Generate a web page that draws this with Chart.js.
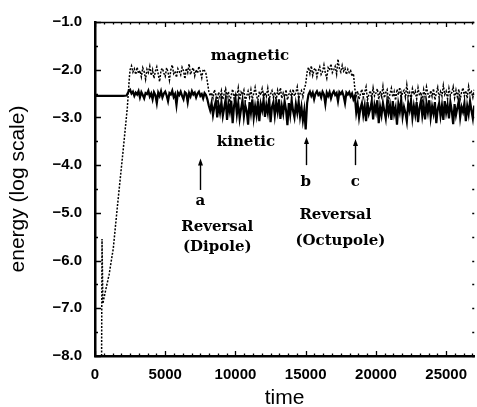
<!DOCTYPE html>
<html>
<head>
<meta charset="utf-8">
<script src="https://cdn.jsdelivr.net/npm/chart.js@4.4.0/dist/chart.umd.min.js"></script>
<style>
  html, body { margin: 0; padding: 0; background: #fff; }
  canvas { display: block; }
</style>
</head>
<body>
<canvas id="energyChart" width="477" height="407"></canvas>
<script>
// start-up phase
var kineticStartTime = [0, 1000, 2000, 2250, 2400];
var kineticStartEnergy = [-2.55, -2.55, -2.55, -2.54, -2.45];
var magneticStartTime = [470, 500, 560, 700, 1000, 1300, 1600, 2000, 2300, 2450];
var magneticStartEnergy = [-8.0, -5.55, -6.9, -6.7, -6.3, -5.75, -4.85, -3.7, -2.8, -2.15];

// saturated phase, one value every 100 time units from 2500 to 27000
var sampleStart = 2500, sampleStep = 100;
var kineticEnergy = [
  -2.42, -2.50, -2.46, -2.55, -2.48,
  -2.52, -2.45, -2.58, -2.47, -2.53, -2.60, -2.49, -2.51, -2.44, -2.56,
  -2.50, -2.62, -2.47, -2.53, -2.70, -2.48, -2.55, -2.45, -2.58, -2.50,
  -2.46, -2.54, -2.66, -2.49, -2.52, -2.44, -2.57, -2.51, -2.74, -2.48,
  -2.53, -2.46, -2.55, -2.62, -2.47, -2.50, -2.68, -2.49, -2.56, -2.45,
  -2.52, -2.48, -2.58, -2.50, -2.46, -2.55, -2.51, -2.60, -2.49, -2.53,
  -2.62, -2.75, -2.85, -2.70, -2.95, -2.78, -2.66, -3.00, -2.74, -2.90,
  -2.68, -2.97, -2.80, -2.62, -3.05, -2.72, -2.88, -2.65, -3.12, -2.76,
  -2.60, -2.93, -2.70, -3.02, -2.82, -2.64, -2.98, -2.75, -2.86, -3.15,
  -2.68, -2.90, -2.62, -3.00, -2.77, -2.95, -2.66, -3.08, -2.72, -2.85,
  -2.63, -2.99, -2.74, -2.90, -2.60, -3.10, -2.78, -2.68, -2.96, -2.70,
  -2.88, -2.62, -3.03, -2.76, -2.92, -2.66, -2.84, -3.16, -2.70, -2.94,
  -2.64, -2.86, -3.00, -2.72, -2.90, -2.67, -2.98, -2.78, -3.06, -2.85,
  -3.25, -2.70, -2.52, -2.46, -2.55, -2.48, -2.62, -2.50, -2.45, -2.53,
  -2.49, -2.58, -2.46, -2.52, -2.72, -2.48, -2.55, -2.47, -2.60, -2.50,
  -2.45, -2.53, -2.49, -2.66, -2.47, -2.51, -2.46, -2.55, -2.70, -2.48,
  -2.52, -2.47, -2.56, -2.50, -2.62, -2.55, -2.90, -2.72, -3.00, -2.80,
  -2.70, -2.95, -2.76, -3.08, -2.68, -2.92, -2.82, -2.66, -3.04, -2.74,
  -2.88, -2.64, -3.12, -2.78, -2.95, -2.70, -2.86, -3.02, -2.68, -2.90,
  -2.75, -3.05, -2.66, -2.93, -2.80, -3.15, -2.72, -2.88, -2.63, -2.98,
  -2.78, -2.90, -3.08, -2.70, -2.85, -2.65, -3.00, -2.76, -2.94, -2.68,
  -3.10, -2.80, -2.66, -2.96, -2.74, -3.04, -2.70, -2.89, -2.64, -3.00,
  -2.77, -2.92, -2.68, -3.12, -2.82, -2.70, -2.97, -2.75, -3.05, -2.66,
  -2.90, -2.74, -3.02, -2.68, -2.86, -3.14, -2.72, -2.95, -2.80, -2.65,
  -3.00, -2.78, -2.88, -2.70, -3.08, -2.76, -2.93, -2.66, -2.85, -3.02,
  -2.75
];
var magneticEnergy = [
  -2.00, -1.92, -2.05, -1.98, -2.10,
  -1.95, -2.08, -2.02, -2.15, -1.96, -2.04, -2.20, -1.99, -2.06, -1.93,
  -2.12, -2.00, -2.18, -2.03, -1.94, -2.09, -2.25, -2.01, -1.97, -2.07,
  -2.14, -1.96, -2.05, -2.22, -2.00, -1.90, -2.08, -2.03, -2.16, -1.98,
  -2.04, -2.11, -1.95, -2.02, -2.19, -1.97, -2.06, -1.88, -2.10, -2.01,
  -1.96, -2.13, -2.00, -2.07, -1.93, -2.05, -2.17, -1.99, -2.02, -2.08,
  -2.25, -2.45, -2.55, -2.48, -2.60, -2.42, -2.52, -2.66, -2.47, -2.58,
  -2.44, -2.62, -2.50, -2.40, -2.57, -2.46, -2.68, -2.53, -2.41, -2.60,
  -2.49, -2.56, -2.38, -2.63, -2.47, -2.52, -2.43, -2.66, -2.55, -2.45,
  -2.58, -2.42, -2.61, -2.50, -2.37, -2.55, -2.64, -2.46, -2.53, -2.40,
  -2.60, -2.48, -2.56, -2.39, -2.62, -2.51, -2.44, -2.58, -2.47, -2.65,
  -2.43, -2.54, -2.38, -2.60, -2.49, -2.57, -2.42, -2.63, -2.52, -2.45,
  -2.59, -2.41, -2.55, -2.48, -2.36, -2.61, -2.50, -2.44, -2.57, -2.40,
  -2.30, -2.05, -1.95, -2.08, -1.92, -2.12, -2.00, -1.97, -2.15, -2.02,
  -1.94, -2.10, -2.04, -1.90, -2.07, -2.18, -1.96, -2.01, -1.88, -2.06,
  -2.00, -1.93, -2.09, -1.78, -1.98, -2.05, -1.91, -2.03, -1.97, -2.10,
  -1.99, -2.06, -2.02, -2.14, -2.08, -2.40, -2.55, -2.45, -2.62, -2.50,
  -2.41, -2.58, -2.47, -2.36, -2.63, -2.52, -2.44, -2.60, -2.38, -2.55,
  -2.49, -2.40, -2.62, -2.45, -2.56, -2.35, -2.59, -2.48, -2.42, -2.66,
  -2.51, -2.39, -2.57, -2.46, -2.64, -2.41, -2.53, -2.37, -2.60, -2.47,
  -2.43, -2.58, -2.32, -2.55, -2.48, -2.62, -2.40, -2.52, -2.45, -2.61,
  -2.38, -2.54, -2.47, -2.65, -2.42, -2.57, -2.36, -2.50, -2.60, -2.44,
  -2.56, -2.40, -2.63, -2.49, -2.37, -2.58, -2.46, -2.55, -2.33, -2.52,
  -2.45, -2.61, -2.39, -2.54, -2.48, -2.36, -2.59, -2.43, -2.57, -2.41,
  -2.62, -2.47, -2.38, -2.55, -2.44, -2.60, -2.35, -2.51, -2.46, -2.58,
  -2.42
];

var xTicks = [0, 5000, 10000, 15000, 20000, 25000];
var yTicks = [-8, -7, -6, -5, -4, -3, -2, -1];

// text notes and arrows, in data units (time, log energy)
var noteTexts = ['magnetic', 'kinetic', 'a', 'b', 'c', 'Reversal', '(Dipole)', 'Reversal', '(Octupole)'];
var noteTime = [11030, 10750, 7500, 15000, 18530, 8700, 8700, 17115, 17470];
var noteEnergy = [-1.72, -3.51, -4.75, -4.35, -4.35, -5.30, -5.71, -5.05, -5.59];
var arrowTime = [7500, 15000, 18530];
var arrowTip = [-3.86, -3.41, -3.45];
var arrowTail = [-4.52, -4.00, -4.00];

function toPoints(times, values) {
  return values.map(function(v, i) { return { x: times[i], y: v }; });
}
function sampled(values) {
  return values.map(function(v, i) { return { x: sampleStart + i * sampleStep, y: v }; });
}

var frame = {
  id: 'frame',
  afterDatasetsDraw: function(chart) {
    var ctx = chart.ctx, a = chart.chartArea, xs = chart.scales.x, ys = chart.scales.y;
    ctx.save();
    ctx.strokeStyle = '#000';
    ctx.fillStyle = '#000';
    // top edge
    ctx.lineWidth = 1.5;
    ctx.beginPath();
    ctx.moveTo(a.left, a.top + 0.5);
    ctx.lineTo(a.right, a.top + 0.5);
    ctx.stroke();
    // inward tick marks
    ctx.lineWidth = 1.3;
    ctx.beginPath();
    for (var t = 0; t <= 27000; t += 625) {
      var px = Math.round(xs.getPixelForValue(t)) + 0.5;
      var len = t % 5000 === 0 ? 5 : 2.5;
      ctx.moveTo(px, a.bottom); ctx.lineTo(px, a.bottom - len);
      ctx.moveTo(px, a.top); ctx.lineTo(px, a.top + len);
    }
    for (var v = -8; v <= -1; v += 0.5) {
      var py = Math.round(ys.getPixelForValue(v)) + 0.5;
      var l = v % 1 === 0 ? 6 : 3;
      ctx.moveTo(a.left, py); ctx.lineTo(a.left + l, py);
      ctx.moveTo(a.right, py); ctx.lineTo(a.right - 2, py);
    }
    ctx.stroke();

    // arrows
    ctx.lineWidth = 1.4;
    arrowTime.forEach(function(t, i) {
      var x = Math.round(xs.getPixelForValue(t)) + 0.5;
      var y1 = ys.getPixelForValue(arrowTip[i]);
      var y2 = ys.getPixelForValue(arrowTail[i]);
      ctx.beginPath();
      ctx.moveTo(x, y2); ctx.lineTo(x, y1 + 4);
      ctx.stroke();
      ctx.beginPath();
      ctx.moveTo(x, y1); ctx.lineTo(x - 2.5, y1 + 7); ctx.lineTo(x + 2.5, y1 + 7);
      ctx.closePath();
      ctx.fill();
    });

    // notes
    ctx.font = 'bold 15px "DejaVu Serif", serif';
    ctx.textAlign = 'center';
    ctx.textBaseline = 'middle';
    noteTexts.forEach(function(s, i) {
      ctx.fillText(s, xs.getPixelForValue(noteTime[i]), ys.getPixelForValue(noteEnergy[i]));
    });
    ctx.restore();
  }
};

var ctx = document.getElementById('energyChart').getContext('2d');
var energyChart = new Chart(ctx, {
  type: 'line',
  data: {
    datasets: [{
      label: 'kinetic',
      data: toPoints(kineticStartTime, kineticStartEnergy).concat(sampled(kineticEnergy)),
      borderColor: '#000',
      borderWidth: 2.2,
      pointRadius: 0,
      tension: 0
    }, {
      label: 'magnetic',
      data: toPoints(magneticStartTime, magneticStartEnergy).concat(sampled(magneticEnergy)),
      borderColor: '#000',
      borderWidth: 1.5,
      borderDash: [2, 1.5],
      pointRadius: 0,
      tension: 0
    }]
  },
  options: {
    responsive: false,
    animation: false,
    layout: { padding: { top: 16, right: 0, bottom: 0, left: 0 } },
    plugins: { legend: { display: false }, tooltip: { enabled: false } },
    scales: {
      x: {
        type: 'linear',
        min: 0,
        max: 27000,
        afterBuildTicks: function(axis) { axis.ticks = xTicks.map(function(v) { return { value: v }; }); },
        afterFit: function(axis) { axis.height = 51; },
        grid: { display: false, drawTicks: false },
        border: { display: true, color: '#000', width: 2.5 },
        ticks: {
          color: '#000',
          padding: 10,
          maxRotation: 0,
          font: { family: '"Liberation Sans", Arial, sans-serif', size: 15, weight: 'bold' },
          callback: function(value) { return String(value); }
        },
        title: {
          display: true,
          text: 'time',
          color: '#000',
          padding: 0,
          font: { family: '"Liberation Sans", Arial, sans-serif', size: 21, lineHeight: 0.8 }
        }
      },
      y: {
        type: 'linear',
        min: -8,
        max: -1,
        afterBuildTicks: function(axis) { axis.ticks = yTicks.map(function(v) { return { value: v }; }); },
        afterFit: function(axis) { axis.width = 95; },
        grid: { display: false, drawTicks: false },
        border: { display: true, color: '#000', width: 2.5 },
        ticks: {
          color: '#000',
          padding: 13,
          font: { family: '"Liberation Sans", Arial, sans-serif', size: 15, weight: 'bold' },
          callback: function(value) { return value.toFixed(1).replace('-', '\u2212'); }
        },
        title: {
          display: true,
          text: 'energy (log scale)',
          color: '#000',
          padding: { top: 6, bottom: 0 },
          font: { family: '"Liberation Sans", Arial, sans-serif', size: 21 }
        }
      }
    }
  },
  plugins: [frame]
});
</script>
</body>
</html>
